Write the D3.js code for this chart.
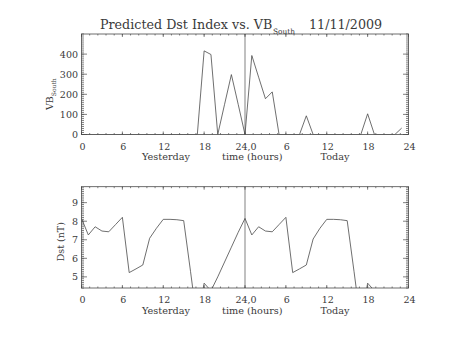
<!DOCTYPE html>
<html>
<head>
<meta charset="utf-8">
<script src="https://cdn.jsdelivr.net/npm/d3@7"></script>
<style>
  html, body { margin: 0; padding: 0; background: #fff; }
  svg { display: block; }
  text { font-family: "DejaVu Serif", serif; fill: #3a3a3a; }
</style>
</head>
<body>
<svg id="chart" width="453" height="340"></svg>
<script>
// Hours spanning yesterday (0-23) and today (24-47)
const hours = [0,1,2,3,4,5,6,7,8,9,10,11,12,13,14,15,16,17,18,19,20,21,22,23,
               24,25,26,27,28,29,30,31,32,33,34,35,36,37,38,39,40,41,42,43,44,45,46,47];

// Southward solar-wind electric field VB_South, one value per hour
const vbSouth = [0,0,0,0,0,0,0,0,0,0,0,0,0,0,0,0,0,0,416,398,0,150,298,150,
                 0,393,285,178,212,0,0,0,0,93,0,0,0,0,0,0,0,0,103,0,0,0,0,32];

// Predicted Dst index (nT), one value per hour
const dstHours = [0,1,2,3,4,5,6,7,8,9,10,11,12,13,14,15,16,17,18,19,20,21,22,23,
                  24,25,26,27,28,29,30,31,32,33,34,35,36,37,38,39,40,41,42,43];
const dst = [8.15,7.26,7.70,7.47,7.43,7.82,8.21,5.23,5.43,5.64,7.08,7.62,8.10,8.10,8.08,8.03,
             5.30,2.50,4.66,4.25,5.00,5.80,6.60,7.40,
             8.15,7.26,7.70,7.47,7.43,7.82,8.21,5.23,5.43,5.64,7.04,7.62,8.10,8.10,8.08,8.03,
             5.30,2.50,4.66,4.25];

// Axis tick values and labels
const xTickHours = [0,6,12,18,24,30,36,42,48];
const xTickLabels = ["0","6","12","18","24,0","6","12","18","24"];
const vbTicks = [0,100,200,300,400];
const dstTicks = [5,6,7,8,9];

const svg = d3.select("#chart");
const xLeft = 81.5, xRight = 408.5;
const ink = "#4a4a4a";

const x = d3.scaleLinear().domain([0, 48]).range([xLeft, xRight]);

// Title
const title = svg.append("text").attr("y", 28.5).style("font-size", "12.7px");
title.append("tspan").attr("x", 100).text("Predicted Dst Index vs. VB");
title.append("tspan").attr("x", 273).attr("y", 34).style("font-size", "7.4px").text("South");
title.append("tspan").attr("x", 309).attr("y", 28.5).text("11/11/2009");

function panel(opts) {
  const { top, bottom, y, majors, minorStep, labelFmt, xs, ys, labelBase, rowBase } = opts;
  const g = svg.append("g");
  const clipId = "clip" + Math.round(top);
  svg.append("clipPath").attr("id", clipId)
    .append("rect").attr("x", xLeft).attr("y", top)
    .attr("width", xRight - xLeft).attr("height", bottom - top);

  // minor x ticks every 1.2 h, major every 6 h (top and bottom, pointing inward)
  const xMinor = d3.range(0, 48.001, 1.2);
  const tickG = g.append("g").attr("stroke", ink).attr("stroke-width", 0.7);
  [[bottom, -1], [top, 1]].forEach(([yy, dir]) => {
    tickG.selectAll(null).data(xMinor).enter().append("line")
      .attr("x1", d => x(d)).attr("x2", d => x(d))
      .attr("y1", yy).attr("y2", yy + dir * 1.5);
    tickG.selectAll(null).data(xTickHours).enter().append("line")
      .attr("x1", d => x(d)).attr("x2", d => x(d))
      .attr("y1", yy).attr("y2", yy + dir * 3);
  });
  // y ticks on left and right
  const [d0, d1] = y.domain();
  const yMinor = d3.range(Math.ceil(d0 / minorStep) * minorStep, d1 + 1e-9, minorStep);
  [[xLeft, 1], [xRight, -1]].forEach(([xx, dir]) => {
    tickG.selectAll(null).data(yMinor).enter().append("line")
      .attr("y1", d => y(d)).attr("y2", d => y(d))
      .attr("x1", xx).attr("x2", xx + dir * 2.5);
    tickG.selectAll(null).data(majors).enter().append("line")
      .attr("y1", d => y(d)).attr("y2", d => y(d))
      .attr("x1", xx).attr("x2", xx + dir * 5.5);
  });

  // frame
  g.append("rect").attr("x", xLeft).attr("y", top)
    .attr("width", xRight - xLeft).attr("height", bottom - top)
    .attr("fill", "none").attr("stroke", ink).attr("stroke-width", 0.8);

  // day boundary
  g.append("line").attr("x1", x(24)).attr("x2", x(24)).attr("y1", top).attr("y2", bottom)
    .attr("stroke", ink).attr("stroke-width", 0.7);

  // data line
  const line = d3.line().x(d => x(d[0])).y(d => y(d[1]));
  g.append("path").datum(xs.map((h, i) => [h, ys[i]]))
    .attr("clip-path", `url(#${clipId})`)
    .attr("d", line).attr("fill", "none")
    .attr("stroke", ink).attr("stroke-width", 0.8);

  // y tick labels
  g.selectAll(null).data(majors).enter().append("text")
    .attr("x", xLeft - 3.5).attr("y", d => y(d) + 3.4)
    .attr("text-anchor", "end").style("font-size", "9.5px")
    .text(labelFmt);

  // x tick labels
  g.selectAll(null).data(xTickHours).enter().append("text")
    .attr("x", d => x(d) + 1).attr("y", labelBase)
    .attr("text-anchor", "middle").style("font-size", "9.5px")
    .text((d, i) => xTickLabels[i]);

  // second row
  [["Yesterday", 166], ["time (hours)", 252.3], ["Today", 335]].forEach(([t, cx]) => {
    g.append("text").attr("x", cx).attr("y", rowBase)
      .attr("text-anchor", "middle").style("font-size", "9.7px").text(t);
  });
  return g;
}

// Upper panel: VB_South
const yVB = d3.scaleLinear().domain([0, 500]).range([134.5, 34]);
panel({ top: 34, bottom: 134.5, y: yVB, majors: vbTicks, minorStep: 10,
        labelFmt: d => d, xs: hours, ys: vbSouth, labelBase: 149.5, rowBase: 160 });

const vbTitle = svg.append("text")
  .attr("transform", "translate(52.5,110) rotate(-90)")
  .style("font-size", "9.5px");
vbTitle.append("tspan").text("VB");
vbTitle.append("tspan").attr("dy", 3.5).style("font-size", "6px").text("South");

// Lower panel: Dst
const yDst = d3.scaleLinear().domain([4.40, 9.86]).range([288, 186.7]);
panel({ top: 186.7, bottom: 288, y: yDst, majors: dstTicks, minorStep: 0.1,
        labelFmt: d => d, xs: dstHours, ys: dst, labelBase: 303.3, rowBase: 314.3 });

svg.append("text")
  .attr("transform", "translate(64,241.7) rotate(-90)")
  .attr("text-anchor", "middle")
  .style("font-size", "9.5px").text("Dst (nT)");
</script>
</body>
</html>
